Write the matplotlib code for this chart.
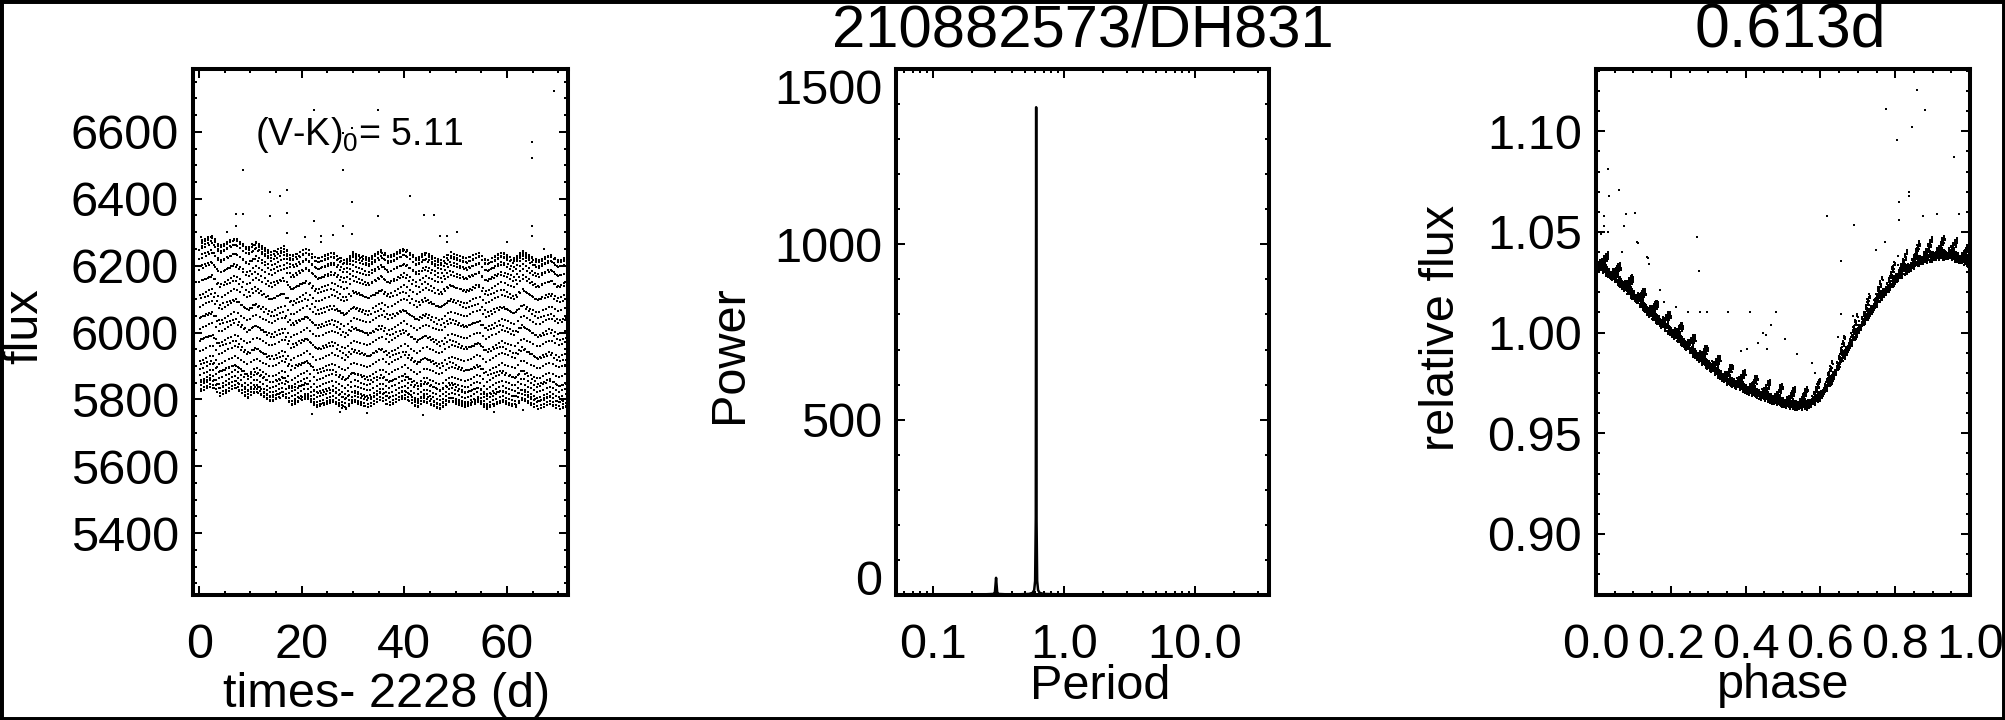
import numpy as np
import matplotlib
matplotlib.use("Agg")
import matplotlib.pyplot as plt
from matplotlib.ticker import (MultipleLocator, FixedLocator, FixedFormatter,
                               LogLocator, NullFormatter, FormatStrFormatter)
from matplotlib.patches import Rectangle

plt.rcParams['font.family'] = ['Liberation Sans', 'DejaVu Sans']
plt.rcParams['mathtext.fontset'] = 'custom'
plt.rcParams['mathtext.rm'] = 'Liberation Sans'
plt.rcParams['mathtext.it'] = 'Liberation Sans'

# ---------------- data ----------------
TITLE_MID = '210882573/DH831'
TITLE_RIGHT = '0.613d'
VK_TEXT = r'(V-K)$_{0}$= 5.11'

PERIOD_D = 0.6134           # rotation period (d), quoted as 0.613d
CADENCE_D = 0.0204336       # K2 long cadence (d)
T_FIRST, T_LAST = 0.0, 71.6  # time span (d, minus 2228)
MEDIAN_FLUX = 6000.0

# phase-folded mean light curve (relative flux)
PHASE_KNOTS = [0.00, 0.056, 0.10, 0.14, 0.21, 0.28, 0.35, 0.42, 0.485, 0.53,
               0.565, 0.60, 0.63, 0.656, 0.71, 0.76, 0.81, 0.86, 0.91, 0.95,
               1.00]
PHASE_REL = [1.037, 1.029, 1.021, 1.013, 1.0015, 0.9895, 0.979, 0.973, 0.9685,
             0.9665, 0.9665, 0.971, 0.979, 0.989, 1.0065, 1.020, 1.031, 1.038,
             1.041, 1.041, 1.037]

# level changes across the campaign (relative)
TREND_T = [0, 2.5, 4, 7, 9.5, 11, 14, 16.5, 18, 21, 23, 26, 28.5, 30, 33,
           35.5, 37, 40, 42.5, 44, 47, 49, 52, 54.5, 56, 59, 61.5, 63, 66,
           68.5, 70, 72]
TREND_LEVEL = [1.004, 1.007, 1.002, 1.006, 1.001, 1.004, 0.999, 1.002, 0.997,
               1.001, 0.996, 0.999, 0.995, 0.999, 0.996, 1.000, 0.997, 1.001,
               0.996, 0.999, 0.995, 0.999, 0.996, 0.999, 0.995, 0.999, 0.996,
               1.000, 0.995, 0.998, 0.995, 0.997]

# outliers in the light curve
LC_OUT_T = [69.1, 22.4, 34.8, 29.7, 28.0, 64.9, 64.9, 8.5, 28.1, 13.9, 15.8,
            17.1, 41.1, 29.8, 7.2, 8.5, 13.9, 17.1, 34.8, 43.8, 45.8, 22.4,
            7.2, 28.1, 64.8, 17.1, 50.3, 64.8, 5.4, 60.0, 67.3, 29.8, 23.7,
            23.7, 47.0, 48.4, 48.4, 0.4, 20.6, 26.1,
            22.0, 27.5, 32.8, 43.6, 57.5, 63.2]
LC_OUT_FLUX = [6722, 6666, 6666, 6611, 6596, 6571, 6523, 6487, 6487, 6419, 6409,
               6425, 6409, 6389, 6354, 6354, 6349, 6357, 6349, 6351, 6352, 6334,
               6317, 6317, 6319, 6298, 6302, 6290, 6300, 6271, 6251, 6296, 6290,
               6271, 6290, 6290, 6272, 6287, 6287, 6291,
               5755, 5762, 5758, 5752, 5763, 5768]

# outliers in the phased light curve
PH_OUT_PHASE = [0.857, 0.776, 0.880, 0.844, 0.806, 0.957, 0.031, 0.061, 0.036,
                0.838, 0.838, 0.811, 0.617, 0.022, 0.080, 0.104, 0.873, 0.913,
                0.971, 0.691, 0.810, 0.022, 0.031, 0.014, 0.075, 0.271, 0.109,
                0.773, 0.749, 0.069, 0.136, 0.142, 0.654, 0.276, 0.807, 0.807,
                0.277, 0.298, 0.353, 0.413, 0.482, 0.447, 0.468, 0.455, 0.506,
                0.654, 0.646, 0.686, 0.702, 0.715, 0.388, 0.404, 0.433, 0.457,
                0.537, 0.577, 0.585, 0.170, 0.181, 0.213, 0.245, 0.138, 0.112]
PH_OUT_REL = [1.1205, 1.111, 1.1106, 1.1021, 1.0957, 1.0872, 1.0811, 1.0708,
              1.0678, 1.070, 1.068, 1.065, 1.058, 1.058, 1.059, 1.0596, 1.058,
              1.059, 1.059, 1.0532, 1.0559, 1.053, 1.050, 1.049, 1.053, 1.0474,
              1.045, 1.045, 1.041, 1.040, 1.0375, 1.034, 1.0355, 1.0305, 1.038,
              1.0335, 1.010, 1.010, 1.010, 1.010, 1.010, 1.000, 1.004, 0.999,
              0.997, 1.009, 0.998, 1.008, 1.006, 1.005, 0.991, 0.992, 0.995,
              0.992, 0.9895, 0.985, 0.980, 1.021, 1.015, 1.0125, 1.010, 1.037,
              1.0445]

# periodogram
PGRAM_PERIOD = [0.052, 0.07, 0.1, 0.15, 0.2, 0.25, 0.29, 0.297, 0.303, 0.309,
                0.316, 0.36, 0.45, 0.54, 0.575, 0.592, 0.602, 0.609, 0.613,
                0.617, 0.624, 0.634, 0.652, 0.7, 0.9, 1.5, 3.0, 6.0, 12.0, 24.0,
                36.5]
PGRAM_POWER = [1, 1, 2, 1, 2, 2, 3, 8, 49, 8, 3, 2, 2, 3, 6, 14, 40, 220, 1391,
               220, 40, 14, 6, 3, 2, 2, 1, 2, 1, 2, 1]

# ---------------- derived light curve ----------------
times = np.arange(T_FIRST, T_LAST, CADENCE_D)
phase = np.mod(times / PERIOD_D, 1.0)
rel = np.interp(phase, PHASE_KNOTS, PHASE_REL) * np.interp(times, TREND_T, TREND_LEVEL)
flux = rel * MEDIAN_FLUX

# ---------------- figure ----------------
W, H = 2005, 720
fig = plt.figure(figsize=(W / 100, H / 100), dpi=100)

def px_axes(x0, x1, ytop, ybot):
    return fig.add_axes([x0 / W, (H - ybot) / H, (x1 - x0) / W, (ybot - ytop) / H])

ax1 = px_axes(193, 568, 69, 595)
ax2 = px_axes(896, 1269, 69, 595)
ax3 = px_axes(1596, 1970, 69, 595)

FS = 35
for ax in (ax1, ax2, ax3):
    for s in ax.spines.values():
        s.set_linewidth(2.9)
    ax.tick_params(which='both', direction='in', top=True, right=True,
                   width=1.45, labelsize=FS)
    ax.tick_params(which='major', length=6.5)
    ax.tick_params(which='minor', length=3.0)
    ax.tick_params(axis='x', pad=20)
    ax.tick_params(axis='y', pad=10)

dot = dict(ls='none', marker='s', ms=1.7, mew=0, color='k')

# panel 1: light curve
ax1.plot(times, flux, **dot)
ax1.plot(LC_OUT_T, LC_OUT_FLUX, **dot)
ax1.set_xlim(-1.2, 71.9)
ax1.set_ylim(5215, 6788)
ax1.xaxis.set_major_locator(MultipleLocator(20))
ax1.xaxis.set_minor_locator(MultipleLocator(5))
ax1.yaxis.set_major_locator(MultipleLocator(200))
ax1.yaxis.set_minor_locator(MultipleLocator(50))
ax1.text(0.165, 0.8555, VK_TEXT, transform=ax1.transAxes, ha='left',
         va='baseline', fontsize=27)
ax1.text(0.517, -0.2129, 'times- 2228 (d)', transform=ax1.transAxes,
         ha='center', va='baseline', fontsize=FS, clip_on=False)
ax1.text((25 - 193) / 375, (595 - 326) / 526, 'flux', transform=ax1.transAxes,
         ha='center', va='center', rotation=90, fontsize=FS)

# panel 2: periodogram
ax2.set_xscale('log')
ax2.plot(PGRAM_PERIOD, PGRAM_POWER, color='k', lw=1.8)
ax2.set_xlim(0.0522, 36.7)
ax2.set_ylim(0, 1500)
ax2.xaxis.set_major_locator(FixedLocator([0.1, 1.0, 10.0]))
ax2.xaxis.set_major_formatter(FixedFormatter(['0.1', '1.0', '10.0']))
ax2.xaxis.set_minor_locator(LogLocator(base=10, subs=np.arange(2, 10)))
ax2.xaxis.set_minor_formatter(NullFormatter())
ax2.yaxis.set_major_locator(FixedLocator([0, 500, 1000, 1500]))
ax2.yaxis.set_major_formatter(FixedFormatter(['0', '500', '1000', '1500']))
ax2.yaxis.set_minor_locator(MultipleLocator(100))
ticks = ax2.yaxis.get_major_ticks()
ticks[0].label1.set_va('baseline')
ticks[-1].label1.set_va('top')
ax2.text(0.5, (595 - 46) / 526, TITLE_MID, transform=ax2.transAxes,
         ha='center', va='baseline', fontsize=43)
ax2.text(0.547, (595 - 699) / 526, 'Period', transform=ax2.transAxes,
         ha='center', va='baseline', fontsize=FS, clip_on=False)
ax2.text((729 - 896) / 373, (595 - 354) / 526, 'Power', transform=ax2.transAxes,
         ha='center', va='center', rotation=90, fontsize=FS)

# panel 3: phased light curve
ax3.plot(phase, rel, **dot)
ax3.plot(PH_OUT_PHASE, PH_OUT_REL, **dot)
ax3.set_xlim(0, 1)
ax3.set_ylim(0.8697, 1.1309)
ax3.xaxis.set_major_locator(MultipleLocator(0.2))
ax3.xaxis.set_minor_locator(MultipleLocator(0.05))
ax3.xaxis.set_major_formatter(FormatStrFormatter('%.1f'))
ax3.yaxis.set_major_locator(MultipleLocator(0.05))
ax3.yaxis.set_minor_locator(MultipleLocator(0.01))
ax3.yaxis.set_major_formatter(FormatStrFormatter('%.2f'))
ax3.text(0.52, (595 - 46) / 526, TITLE_RIGHT, transform=ax3.transAxes,
         ha='center', va='baseline', fontsize=45)
ax3.text(0.501, (595 - 698) / 526, 'phase', transform=ax3.transAxes,
         ha='center', va='baseline', fontsize=FS, clip_on=False)
ax3.text((1442 - 1596) / 374, (595 - 328) / 526, 'relative flux',
         transform=ax3.transAxes, ha='center', va='center', rotation=90,
         fontsize=FS)

# outer frame
fig.patches.append(Rectangle((0, 0), 1, 1, transform=fig.transFigure,
                             fill=False, edgecolor='k', linewidth=5,
                             zorder=10))

fig.savefig('out.png', dpi=100)
